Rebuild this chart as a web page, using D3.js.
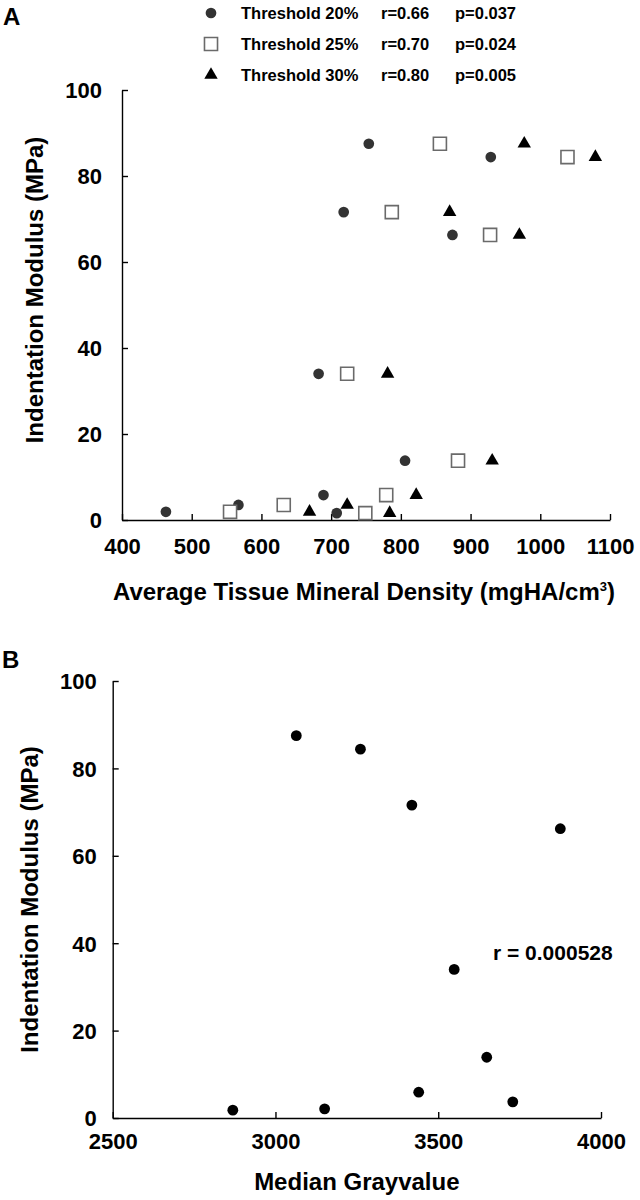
<!DOCTYPE html>
<html><head><meta charset="utf-8">
<script src="https://cdn.jsdelivr.net/npm/d3@7"></script>
<style>
html,body{margin:0;padding:0;background:#fff;}
svg text{font-family:Arial,"Liberation Sans",sans-serif;font-weight:bold;fill:#000;}
</style></head>
<body>
<svg id="c" width="640" height="1200"></svg>
<script>
// ---- Data (Panel A) ----
const modulusA = [87.5, 84.4, 71.6, 66.3, 34.0, 13.8, 5.8, 3.5, 1.9, 1.6];
const tmd20 = [754, 929, 718, 874, 682, 806, 689, 567, 463, 708];
const tmd25 = [856, 1039, 787, 928, 723, 882, 779, 632, 555, 749];
const tmd30 = [977, 1079, 870, 970, 781, 931, 822, 723, 669, 784];
const legendLabels = ["Threshold 20%", "Threshold 25%", "Threshold 30%"];
const legendR = ["r=0.66", "r=0.70", "r=0.80"];
const legendP = ["p=0.037", "p=0.024", "p=0.005"];
const xTicksA = [400, 500, 600, 700, 800, 900, 1000, 1100];
const yTicks = [0, 20, 40, 60, 80, 100];
// ---- Data (Panel B) ----
const grayValue = [3064, 3261, 3419, 3875, 3549, 3649, 3440, 3729, 3151, 2869];
const modulusB = [87.5, 84.4, 71.6, 66.2, 34.0, 13.9, 5.9, 3.7, 2.1, 1.8];
const xTicksB = [2500, 3000, 3500, 4000];
const rTextB = "r = 0.000528";

const svg = d3.select("#c");

// ---------- Panel A ----------
const xA = d3.scaleLinear().domain([400, 1100]).range([122, 610]);
const yA = d3.scaleLinear().domain([0, 100]).range([520, 90]);

function styleAxis(g){
  g.selectAll("path.domain").attr("stroke","#000").attr("stroke-width",1.4);
  g.selectAll(".tick line").attr("stroke","#000").attr("stroke-width",1.4);
  g.selectAll(".tick text").style("font-size","22px").attr("fill","#000");
}

const gxA = svg.append("g").attr("transform",`translate(0,${yA(0)})`)
  .call(d3.axisBottom(xA).tickValues(xTicksA).tickFormat(d3.format("d")).tickSizeInner(-6).tickSizeOuter(0).tickPadding(18));
styleAxis(gxA);
const gyA = svg.append("g").attr("transform",`translate(${xA(400)},0)`)
  .call(d3.axisLeft(yA).tickValues(yTicks).tickSizeInner(-6).tickSizeOuter(0).tickPadding(20));
styleAxis(gyA);
gyA.selectAll(".tick text").attr("dy","0.36em");

const symCircle = d3.symbol().type(d3.symbolCircle).size(90);
const symSquare = d3.symbol().type(d3.symbolSquare).size(170);
const symTri = d3.symbol().type(d3.symbolTriangle).size(78);

const seriesA = [
  {vals: tmd20, sym: symCircle, fill:"#333", stroke:"none"},
  {vals: tmd25, sym: symSquare, fill:"#fff", stroke:"#6a6a6a"},
  {vals: tmd30, sym: symTri, fill:"#000", stroke:"none"}
];
seriesA.forEach(s=>{
  svg.append("g").selectAll("path").data(s.vals.map((v,i)=>({x:v,y:modulusA[i]})))
    .join("path")
    .attr("d", s.sym())
    .attr("transform", d=>`translate(${xA(d.x)},${yA(d.y)})`)
    .attr("fill", s.fill).attr("stroke", s.stroke).attr("stroke-width", 1.6);
});

// Legend
const legRowY = [13, 44, 75];
seriesA.forEach((s,i)=>{
  svg.append("path").attr("d", s.sym()).attr("transform",`translate(211,${legRowY[i]})`)
    .attr("fill", s.fill).attr("stroke", s.stroke).attr("stroke-width",1.6);
  svg.append("text").attr("x",241).attr("y",legRowY[i]+6).style("font-size","16.5px").text(legendLabels[i]);
  svg.append("text").attr("x",381).attr("y",legRowY[i]+6).style("font-size","16.5px").text(legendR[i]);
  svg.append("text").attr("x",455).attr("y",legRowY[i]+6).style("font-size","16.5px").text(legendP[i]);
});

// Titles A
const tA = svg.append("text").attr("x",(xA(400)+xA(1100))/2 - 2).attr("y",600).attr("text-anchor","middle").style("font-size","24px");
tA.append("tspan").text("Average Tissue Mineral Density (mgHA/cm");
tA.append("tspan").attr("dy",-9).style("font-size","13px").text("3");
tA.append("tspan").attr("dy",9).text(")");
svg.append("text").attr("transform",`translate(43,${(yA(0)+yA(100))/2 - 15}) rotate(-90)`)
  .attr("text-anchor","middle").style("font-size","24px").text("Indentation Modulus (MPa)");
svg.append("text").attr("x",3).attr("y",25).style("font-size","24px").text("A");

// ---------- Panel B ----------
const xB = d3.scaleLinear().domain([2500, 4000]).range([112.7, 601]);
const yB = d3.scaleLinear().domain([0, 100]).range([1118, 681]);

const gxB = svg.append("g").attr("transform",`translate(0,${yB(0)})`)
  .call(d3.axisBottom(xB).tickValues(xTicksB).tickFormat(d3.format("d")).tickSizeInner(-6).tickSizeOuter(0).tickPadding(15));
styleAxis(gxB);
const gyB = svg.append("g").attr("transform",`translate(${xB(2500)},0)`)
  .call(d3.axisLeft(yB).tickValues(yTicks).tickSizeInner(-6).tickSizeOuter(0).tickPadding(16));
styleAxis(gyB);
gyB.selectAll(".tick text").attr("dy","0.36em");

svg.append("g").selectAll("circle").data(grayValue.map((v,i)=>({x:v,y:modulusB[i]})))
  .join("circle").attr("cx",d=>xB(d.x)).attr("cy",d=>yB(d.y)).attr("r",5.4).attr("fill","#000");

svg.append("text").attr("x",493).attr("y",960).style("font-size","21px").text(rTextB);
svg.append("text").attr("x",(xB(2500)+xB(4000))/2).attr("y",1190).attr("text-anchor","middle").style("font-size","24px").text("Median Grayvalue");
svg.append("text").attr("transform",`translate(38,${(yB(0)+yB(100))/2})`+" rotate(-90)")
  .attr("text-anchor","middle").style("font-size","24px").text("Indentation Modulus (MPa)");
svg.append("text").attr("x",2).attr("y",668).style("font-size","24px").text("B");
</script>
</body></html>
